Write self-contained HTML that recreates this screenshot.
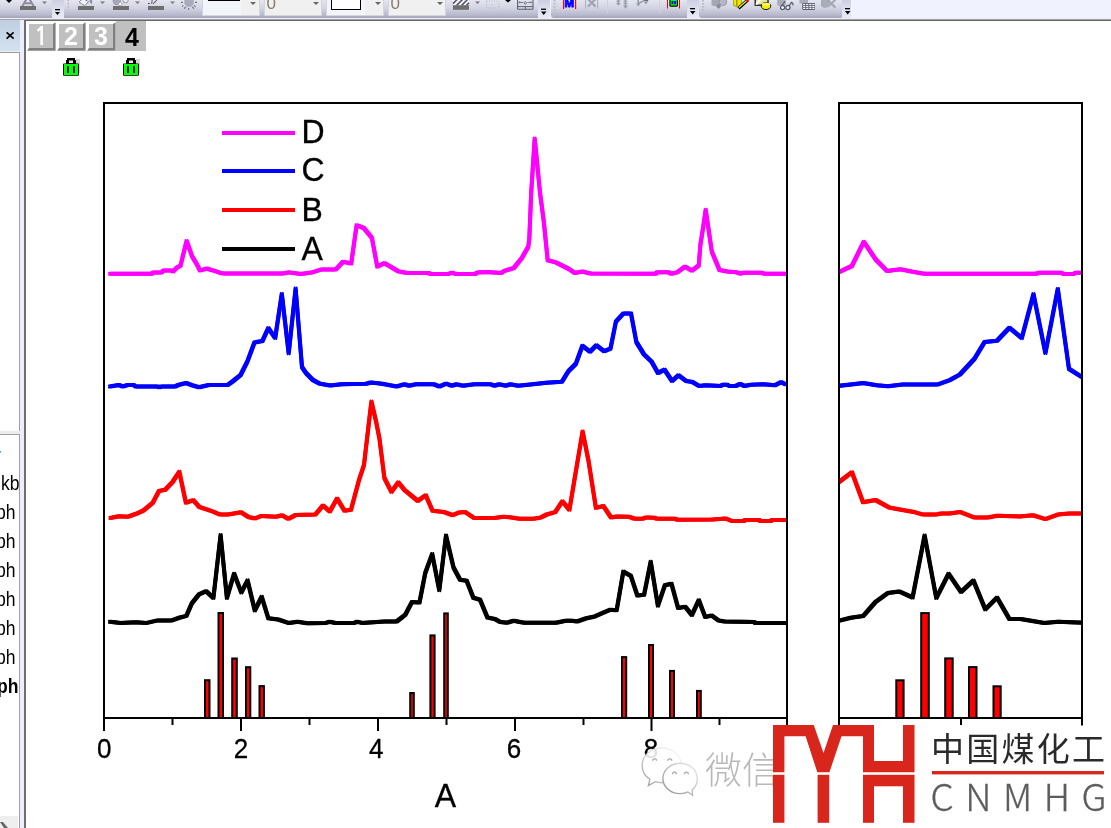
<!DOCTYPE html>
<html><head><meta charset="utf-8"><title>plot</title>
<style>
html,body{margin:0;padding:0;}
body{width:1111px;height:828px;overflow:hidden;position:relative;background:#fff;font-family:"Liberation Sans",Arial,sans-serif;}
.a{position:absolute;}
svg{position:absolute;left:0;top:0;}
.tb{position:absolute;top:0;height:18px;background:linear-gradient(#e4e5f0,#d2d4e3 45%,#b8bacd 82%,#a2a3b9);}
.cb{position:absolute;top:0;height:16px;background:#f0f0f0;border:1px solid #d4d4dc;border-top:none;box-sizing:border-box;}
.arr{position:absolute;top:2px;width:0;height:0;border-left:3px solid transparent;border-right:3px solid transparent;border-top:3px solid #666;}
.chev{position:absolute;top:0;height:19px;background:linear-gradient(#cdcee1,#dfe0ef 50%,#eaebf7);}
.lp{font-size:19.5px;color:#000;position:absolute;left:0;transform:scaleX(0.9);transform-origin:0 0;}
</style></head><body>
<!-- toolbar strip -->
<div class="a" style="left:0;top:0;width:1111px;height:21px;background:#f0f3fd"></div>
<div class="tb" style="left:0;width:540px"></div>
<div class="tb" style="left:551px;width:136px;border-radius:0 0 0 3px"></div>
<div class="tb" style="left:699px;width:144px;border-radius:0 0 3px 3px"></div>
<div class="a" style="left:0;top:18px;width:1111px;height:1px;background:#eceefa"></div>
<div class="a" style="left:0;top:19px;width:1111px;height:1px;background:#a4a4a4"></div><div class="a" style="left:0;top:20px;width:1111px;height:1px;background:#6c6c6c"></div>
<div class="chev" style="left:52px;width:12px"></div>
<div class="chev" style="left:538px;width:12px"></div>
<div class="chev" style="left:687px;width:12px"></div>
<div class="chev" style="left:842px;width:9px"></div>
<!-- combo boxes -->
<div class="cb" style="left:202px;width:58px"><div class="a" style="left:0;top:0;width:38px;height:15px;background:#f2f6fa"></div><div class="a" style="left:4.5px;top:0;width:32px;height:1px;background:#000"></div><div class="arr" style="left:47px"></div></div>
<div class="cb" style="left:264px;width:58px"><div class="a" style="left:1.5px;top:-5.5px;font-size:17px;line-height:17px;color:#8a7a70">0</div><div class="arr" style="left:48px"></div></div>
<div class="cb" style="left:326px;width:58px"><div class="a" style="left:0;top:0;width:38px;height:15px;background:#f2f6fa"></div><div class="a" style="left:4px;top:-1px;width:30px;height:11px;border:1.5px solid #000;background:#fff;box-sizing:border-box"></div><div class="arr" style="left:48px"></div></div>
<div class="cb" style="left:388px;width:58px"><div class="a" style="left:1.5px;top:-5.5px;font-size:17px;line-height:17px;color:#8a7a70">0</div><div class="arr" style="left:48px"></div></div>
<svg width="1111" height="21" viewBox="0 0 1111 21">
<!-- misc toolbar glyphs -->
<polygon points="6,0 12,0 9,3" fill="#000"/>
<path d="M22.5,6 L26.5,-1 M33.5,6 L29.5,-1 M25,3.3 L31,3.3" stroke="#8c8ca0" stroke-width="2" fill="none"/>
<rect x="20" y="6" width="16" height="4" fill="#6e6e6e"/>
<polygon points="42,1.5 47,1.5 44.5,4" fill="#777"/>
<rect x="55" y="9" width="5" height="1.3" fill="#000"/><polygon points="55,12 60,12 57.5,15" fill="#000"/>
<rect x="67.5" y="0" width="1.5" height="1.5" fill="#bbb"/><rect x="67.5" y="3" width="1.5" height="1.5" fill="#bbb"/><rect x="67.5" y="6" width="1.5" height="1.5" fill="#bbb"/><rect x="67.5" y="9" width="1.5" height="1.5" fill="#bbb"/>
<polygon points="79.2,2.2 83,-1.6 88.6,1.8 84.6,5.6" fill="#f4f5fb" stroke="#4a4a55" stroke-width="0.9" stroke-dasharray="1.2,0.6"/><polygon points="89.4,0 92.2,0 91.8,4.2 90,2.6" fill="#8a90a8"/>
<rect x="78" y="6" width="16" height="4" fill="#6e6e6e"/>
<polygon points="100,1.5 105,1.5 102.5,4" fill="#777"/>
<ellipse cx="116.8" cy="0.8" rx="3.8" ry="3.9" fill="#a4a8b8" stroke="#7a7e8e" stroke-width="0.8" stroke-dasharray="1,0.7"/><polygon points="117.8,4 120.2,1.8 122.6,4 120.2,6" fill="#f4f5fb" stroke="#8a8a96" stroke-width="0.7"/><circle cx="125.6" cy="0.3" r="2.6" fill="#e8e9f2" stroke="#8c8c98" stroke-width="0.9"/>
<rect x="113" y="6" width="16" height="4" fill="#6e6e6e"/>
<polygon points="135,1.5 140,1.5 137.5,4" fill="#777"/>
<path d="M153,3.8 L156.8,0 M151.6,3.8 L152.2,0" stroke="#6a6a78" stroke-width="1.1"/><rect x="148" y="3" width="1.8" height="1.1" fill="#555"/>
<rect x="148" y="6" width="16" height="4" fill="#6e6e6e"/>
<polygon points="170,1.5 175,1.5 172.5,4" fill="#777"/>
<polygon points="184.3,-2 193.8,-2 193.8,3.5 191.5,6.8 186.5,6.8 184.3,3.5" fill="#a9abbb"/>
<path d="M181,2.4 L182.8,2.4 M195,2.4 L197,2.4 M182.2,6.6 L183.3,5.4 M184,8.6 L185.8,7 M188.6,8 L188.6,9.8 M194,5.4 L195.6,6.8 M192.4,7 L194,8.6" stroke="#6f6f7c" stroke-width="1.1"/>
<rect x="453" y="-1" width="16" height="6.5" fill="#f6f6fa"/>
<path d="M453,3.6 L457.2,-0.6 M456.6,5.4 L462.6,-0.6 M461.6,5.4 L467.6,-0.6 M466.4,5.4 L469,2.8" stroke="#4c5268" stroke-width="1.5"/>
<rect x="453" y="5.2" width="16" height="4.6" fill="#6e6e6e"/>
<polygon points="475,1.5 480,1.5 477.5,4" fill="#777"/>
<rect x="486.5" y="1" width="12.5" height="7" fill="none" stroke="#a8acbc" stroke-width="0.9" stroke-dasharray="0.9,1.6"/><rect x="491.8" y="4" width="0.9" height="0.9" fill="#a8acbc"/>
<polygon points="505,0 511,0 508,2.5" fill="#000"/>
<rect x="517.6" y="-1.5" width="15.4" height="10.8" rx="0.6" fill="none" stroke="#5c6070" stroke-width="1.1"/>
<line x1="517.6" y1="6.6" x2="533" y2="6.6" stroke="#5c6070" stroke-width="1"/><line x1="525.3" y1="6.6" x2="525.3" y2="9.3" stroke="#5c6070" stroke-width="1"/>
<path d="M519,2.4 L523.2,2.4 M527.4,2.4 L531.6,2.4 M519.8,1.4 L518.8,2.4 L519.8,3.4 M530.8,1.4 L531.8,2.4 L530.8,3.4" stroke="#5c6070" stroke-width="0.8" fill="none"/><circle cx="525.3" cy="2.9" r="1.2" fill="none" stroke="#5c6070" stroke-width="0.8"/>
<rect x="541" y="8.6" width="5" height="1.3" fill="#000"/><polygon points="541,11.5 546.5,11.5 543.7,15" fill="#000"/>
<rect x="553.5" y="0" width="2" height="1.5" fill="#bbb"/><rect x="553.5" y="3" width="2" height="1.5" fill="#bbb"/><rect x="553.5" y="6" width="2" height="1.5" fill="#bbb"/><rect x="553.5" y="9" width="2" height="1.5" fill="#bbb"/>
<rect x="563" y="0" width="1.2" height="9" fill="#f00"/><rect x="575" y="0" width="1.2" height="9" fill="#f00"/>
<text x="569.4" y="6.8" font-size="11.5" font-weight="bold" fill="#0000ff" stroke="#0000ff" stroke-width="0.9" text-anchor="middle" style="font-family:'Liberation Sans',sans-serif">M</text>
<path d="M585.6,0 L585.6,8.6 M597.6,0 L597.6,8.6" stroke="#a6a8b6" stroke-width="0.9"/>
<path d="M588,-1 L595.5,6.6 M595.5,-1 L588,6.6" stroke="#a2a5b5" stroke-width="2.3"/>
<line x1="607.5" y1="0" x2="607.5" y2="14" stroke="#d0d0dc"/>
<g fill="#9a9dac"><rect x="617.6" y="0" width="1.6" height="3.4"/><rect x="616.4" y="0.6" width="4" height="1"/><polygon points="616,3 620.8,3 618.4,5.8"/>
<rect x="624.6" y="0" width="1.6" height="6"/><rect x="623.4" y="0.6" width="4" height="1"/><rect x="623.4" y="2.8" width="4" height="1"/><polygon points="623,5.4 628,5.4 625.4,8.8"/>
<rect x="637.4" y="0" width="1.6" height="3.8"/><polygon points="636,3.4 640.6,3.4 638.3,6.6"/><polygon points="643.6,1.4 648.2,1.4 645.9,4.4"/></g>
<path d="M638.6,3.2 L645.4,0" stroke="#8a8d9c" stroke-width="1.2"/><rect x="644.8" y="0" width="3.4" height="1.2" fill="#666a78"/>
<line x1="659.5" y1="0" x2="659.5" y2="14" stroke="#d0d0dc"/>
<rect x="667" y="0" width="1" height="8.5" fill="#f00"/><rect x="679" y="0" width="1" height="8.5" fill="#f00"/>
<rect x="669.4" y="-2" width="8.6" height="8.8" rx="1.6" fill="#000"/><rect x="670.5" y="-1" width="6.4" height="6.6" fill="#00ff00"/>
<rect x="671.6" y="1" width="1.8" height="3.2" fill="#0000ff"/><rect x="674.2" y="1" width="1.8" height="3.2" fill="#0000ff"/>
<rect x="690" y="8" width="5" height="1.3" fill="#000"/><polygon points="690,11 695.5,11 692.7,14.5" fill="#000"/>
<rect x="702" y="0" width="2" height="1.5" fill="#bbb"/><rect x="702" y="3" width="2" height="1.5" fill="#bbb"/><rect x="702" y="6" width="2" height="1.5" fill="#bbb"/><rect x="702" y="9" width="2" height="1.5" fill="#bbb"/>
<polygon points="711.5,-1 721.5,-1 721.5,5 718.5,6.5 711.5,5.5" fill="#a4a6b2"/><polygon points="716,6.2 718.6,3.6 721.2,6.2 718.6,9" fill="#8a8c98"/><circle cx="723" cy="1.8" r="3.8" fill="#b4b7c4" stroke="#8e909c" stroke-width="0.8"/>
<polygon points="733.6,-1 741.4,-1 741.4,5.5 737.5,7 733.6,5.5" fill="#f0ea00" stroke="#7a7400" stroke-width="0.6"/><rect x="736" y="-1" width="1.6" height="7" fill="#a8a000"/>
<path d="M738.5,8.2 L747.5,0.2" stroke="#000" stroke-width="3.2"/><path d="M738.8,7.6 L747.2,0.2" stroke="#f4ee00" stroke-width="1.3"/><rect x="746.2" y="-1" width="2.6" height="2.6" fill="#f00"/>
<rect x="755.2" y="-1" width="12.8" height="6.2" fill="#e8e4a0" stroke="#000" stroke-width="1.2"/><path d="M756,4.6 L761,-1" stroke="#fff" stroke-width="2"/>
<ellipse cx="766" cy="6" rx="4.8" ry="3.6" fill="#f2ec00" stroke="#000" stroke-width="0.9"/><ellipse cx="766" cy="4.2" rx="4.2" ry="1.6" fill="#fbf76a"/>
<polygon points="777.2,-1 785.8,-1 785.8,4.5 780,6.5 777.2,5" fill="#a9acb9"/>
<path d="M781.6,5.6 L785.2,1.4 M789.4,5.6 L791.4,2.4 L792.9,3.4 L792.9,5.4" stroke="#5a5e6c" stroke-width="1.2" fill="none"/>
<circle cx="782.6" cy="7.6" r="2.1" fill="#f4f4f8" stroke="#5a5e6c" stroke-width="1.3"/><circle cx="787.9" cy="7.6" r="2.1" fill="#f4f4f8" stroke="#5a5e6c" stroke-width="1.3"/>
<polygon points="799.4,-1 808,-1 808,3.5 799.4,3.5" fill="#a9acb9"/>
<rect x="802.2" y="3" width="12.8" height="6.9" rx="0.8" fill="#5c6070"/>
<g fill="#f0f0f4"><rect x="803.1" y="3.9" width="2.2" height="1.2"/><rect x="806.2" y="3.9" width="2.2" height="1.2"/><rect x="809.3" y="3.9" width="2.2" height="1.2"/><rect x="812.3" y="3.9" width="2.2" height="1.2"/>
<rect x="803.1" y="5.9" width="2.2" height="1.2"/><rect x="806.2" y="5.9" width="2.2" height="1.2"/><rect x="809.3" y="5.9" width="2.2" height="1.2"/><rect x="812.3" y="5.9" width="2.2" height="1.2"/>
<rect x="803.1" y="7.8" width="2.2" height="1.2"/><rect x="806.2" y="7.8" width="2.2" height="1.2"/><rect x="809.3" y="7.8" width="2.2" height="1.2"/><rect x="812.3" y="7.8" width="2.2" height="1.2"/></g>
<polygon points="821,-1 829.5,-1 829.5,7 824,8 821,6" fill="#a9acb9"/><path d="M827.5,-0.5 L835.5,7.8 M835.5,-0.5 L829.5,5.5" stroke="#a3a6b4" stroke-width="2"/>
<rect x="845" y="8" width="5" height="1.3" fill="#000"/><polygon points="845,11 850.5,11 847.7,14.5" fill="#000"/>
</svg>
<!-- left dock panel -->
<div class="a" style="left:0;top:20px;width:20px;height:31px;background:linear-gradient(#bfcfe0,#d4e2f0)"></div>
<svg width="20" height="60" viewBox="0 0 20 60"><path d="M6.6,32.4 L13.6,38.6 M13.6,32.4 L6.6,38.6" stroke="#000" stroke-width="1.7"/></svg>
<div class="a" style="left:0;top:51px;width:20px;height:1.5px;background:#eceefa"></div>
<div class="a" style="left:0;top:52.3px;width:19.5px;height:1.2px;background:#9a9a9a"></div>
<div class="a" style="left:18.5px;top:52.3px;width:1.3px;height:379px;background:#a0a0a0"></div>
<div class="a" style="left:0;top:431px;width:20px;height:3px;background:#ececec"></div>
<div class="a" style="left:0;top:434px;width:19px;height:1px;background:#a0a0a0"></div>
<div class="a" style="left:18.5px;top:434px;width:1.5px;height:394px;background:#a0a0a0"></div>
<div class="a" style="left:20px;top:20px;width:4.5px;height:808px;background:#eceefb"></div>
<div class="a" style="left:24.3px;top:20px;width:1.7px;height:808px;background:#6e6e6e"></div>
<div class="a" style="left:0;top:816px;width:18px;height:12px;background:#efefef"></div>
<svg width="30" height="828" viewBox="0 0 30 828"><path d="M0,822 L3,822 L8,828 L4,828 Z" fill="#666"/><rect x="0" y="451" width="1.2" height="1.5" fill="#3399ff"/></svg>
<div class="lp" style="left:0.5px;top:472px;">kb</div>
<div class="lp" style="left:-4.5px;top:501px;">ph</div>
<div class="lp" style="left:-4.5px;top:530px;">ph</div>
<div class="lp" style="left:-4.5px;top:559px;">ph</div>
<div class="lp" style="left:-4.5px;top:588px;">ph</div>
<div class="lp" style="left:-4.5px;top:617px;">ph</div>
<div class="lp" style="left:-4.5px;top:646px;">ph</div>
<div class="lp" style="left:-3.5px;top:675px;font-weight:bold">ph</div>
<!-- main graph svg -->
<svg width="1111" height="828" viewBox="0 0 1111 828" style="font-family:'Liberation Sans',Arial,sans-serif">
<!-- layer tabs -->
<rect x="26" y="20" width="1085" height="1" fill="#666"/>
<polygon points="53,24 55.6,22.3 55.6,50.8 27.1,50.8 29,48 53,48" fill="#808080"/>
<rect x="29" y="24" width="24" height="24" fill="#c0c0c0"/>
<text x="41" y="45" font-size="25" font-weight="bold" fill="#fff" text-anchor="middle" style="font-family:NanumGothic,'Liberation Sans',sans-serif;font-size:23.5px">1</text>
<polygon points="83,24 85.6,22.3 85.6,50.8 57.1,50.8 59,48 83,48" fill="#808080"/>
<rect x="59" y="24" width="24" height="24" fill="#c0c0c0"/>
<text x="71" y="45" font-size="25" font-weight="bold" fill="#fff" text-anchor="middle">2</text>
<polygon points="113,24 115.6,22.3 115.6,50.8 87.1,50.8 89,48 113,48" fill="#808080"/>
<rect x="89" y="24" width="24" height="24" fill="#c0c0c0"/>
<text x="101" y="45" font-size="25" font-weight="bold" fill="#fff" text-anchor="middle">3</text>
<rect x="116" y="21" width="30" height="30" fill="#c0c0c0"/>
<text x="132" y="45.6" font-size="25" font-weight="bold" fill="#000" text-anchor="middle">4</text>
<g transform="translate(0,0)">
<rect x="76" y="59" width="4" height="14" fill="#d8d8d8"/>
<rect x="67" y="58" width="8" height="2.5" fill="#000"/>
<rect x="66" y="60" width="10" height="4" fill="#000"/>
<rect x="69" y="60.5" width="4" height="2.5" fill="#e8e8e8"/>
<rect x="63" y="63.5" width="16" height="12.3" rx="1" fill="#000"/>
<rect x="64" y="64" width="14" height="11" fill="#00ff00"/>
<rect x="67" y="66" width="1.8" height="7" fill="#000"/>
<rect x="73" y="66" width="1.8" height="7" fill="#000"/>
</g>
<g transform="translate(60,0)">
<rect x="76" y="59" width="4" height="14" fill="#d8d8d8"/>
<rect x="67" y="58" width="8" height="2.5" fill="#000"/>
<rect x="66" y="60" width="10" height="4" fill="#000"/>
<rect x="69" y="60.5" width="4" height="2.5" fill="#e8e8e8"/>
<rect x="63" y="63.5" width="16" height="12.3" rx="1" fill="#000"/>
<rect x="64" y="64" width="14" height="11" fill="#00ff00"/>
<rect x="67" y="66" width="1.8" height="7" fill="#000"/>
<rect x="73" y="66" width="1.8" height="7" fill="#000"/>
</g>
<defs><clipPath id="cl"><rect x="105" y="104" width="681" height="613"/></clipPath>
<clipPath id="cr"><rect x="840" y="104" width="241" height="613"/></clipPath></defs>
<g fill="none" stroke-width="2.0" stroke-linejoin="round" stroke-linecap="round" clip-path="url(#cl)">
<polyline id="cl0" points="110,273.80 152,273.80 153,272.40 161.5,272.40 163.5,270.60 172,270.60 173,271.60 177.3,267.30 180.5,265.70 186.6,240.90 188.6,246.20 191.9,255.90 196.7,264.00 200,270.50 201.6,270.10 206.9,268.50 210.5,269.70 214.6,270.90 220.2,272.90 224,273.50 283.6,273.50 287,272.60 290,272.60 300.8,273.90 311.6,272.60 321.5,269.40 335.9,269.40 343.1,261.80 351.2,263.60 356.6,225.30 363.8,228.00 371.9,237.90 377.3,266.70 384.5,263.10 398,271.20 407,273.00 428.6,273.00 430.4,273.90 448.4,273.90 452,272.60 455.6,273.90 475.4,273.90 477.2,272.60 486.8,271.90 501.3,272.90 504.2,271.00 513.8,268.00 521.6,258.40 528.3,246.80 529.3,239.00 531.2,192.70 533.2,161.70 534.7,138.60 537,161.70 540,192.70 543.8,221.70 547.7,260.30 555.4,262.20 568.9,269.00 574.7,272.90 582.5,271.50 590.2,273.50 656,273.80 656.7,272.30 669,272.30 671.3,273.80 677.4,272.30 685,266.60 691.9,270.70 698.8,265.40 700.3,245.50 703.4,225.60 705.7,209.80 708,225.60 711.8,251.60 719.5,270.00 727.1,271.50 736.3,272.30 740.9,273.80 742.4,272.70 762.3,272.70 763.8,273.80 786,273.80" stroke="#ff00ff"/>
<use href="#cl0" x="-1" y="-1"/>
<use href="#cl0" x="1" y="-1"/>
<use href="#cl0" x="-1" y="1"/>
<use href="#cl0" x="1" y="1"/>
<polyline id="cl1" points="109.9,386.50 118.8,385.00 122.8,386.50 127.7,385.00 133.7,385.00 135.6,386.50 157.4,386.50 159.4,387.30 161.4,386.50 175.2,386.50 178.2,385.00 186.1,383.00 192.1,385.30 199,387.30 208.9,385.00 227.7,385.00 232.7,381.40 240.6,375.00 247.5,361.20 254.5,342.40 262.4,341.00 268.3,328.10 275.2,338.00 281.8,293.90 288.7,353.30 295.6,288.50 302,367.10 306,373.00 312.9,380.00 320.1,383.80 330.3,385.40 341.5,384.30 366.3,383.80 370.8,382.50 382,383.80 396.6,386.50 404.5,384.30 409,385.80 415.8,384.30 433.8,384.30 439.4,386.50 446.1,383.60 451.8,385.80 456.3,384.30 463,385.80 474.3,384.30 491.1,384.30 494.5,385.80 499,384.30 505.8,385.80 510.3,384.30 518.1,385.80 532.8,384.30 546.3,382.70 561.9,381.70 568.4,371.30 575.9,363.70 582.4,345.80 590,351.80 596.4,345.30 604,351.20 610.5,348.60 615.9,321.60 623.5,313.40 631,313.40 636.4,342.10 644,354.40 651.5,361.60 658,373.00 664.5,369.60 672,381.00 678.5,375.20 686.1,381.00 692.6,382.10 699.1,386.00 705.5,385.30 720.7,386.00 722.8,384.70 727.1,384.70 729.3,386.00 735.8,386.00 740.1,383.80 744.4,386.00 750.9,384.70 763.9,384.30 774.7,385.30 781.1,382.10 785.5,384.30" stroke="#0000ff"/>
<use href="#cl1" x="-1" y="-1"/>
<use href="#cl1" x="1" y="-1"/>
<use href="#cl1" x="-1" y="1"/>
<use href="#cl1" x="1" y="1"/>
<polyline id="cl2" points="110.4,518.00 118.6,516.30 128,516.70 136.2,513.80 143.5,510.50 152.8,502.80 159,491.00 165.2,489.80 172.5,482.10 179.3,471.70 185.9,502.80 193.2,500.10 199.4,507.00 211.8,511.10 220.1,514.60 228.4,514.60 240.8,512.20 249.1,517.30 255.3,518.40 261.5,515.90 276,516.70 282.2,515.30 288.4,518.80 295.7,515.00 315.3,514.60 323,505.50 329.8,511.50 337.1,498.60 344.5,510.70 351,509.80 359.1,479.70 364,465.00 368.9,422.60 371.4,401.60 376.3,422.60 379.5,438.90 384.4,478.00 391.4,491.90 398.3,482.30 404.8,490.30 417.8,500.90 425.7,495.20 432.5,510.70 443.9,512.00 452.9,515.20 458.6,512.60 465.1,512.00 474.1,518.00 494.5,518.00 503.2,516.80 509.8,517.20 519.3,518.70 533.5,518.70 541,517.40 546.7,514.50 555.2,512.10 562.4,501.30 569.4,509.80 582.6,431.40 588.3,459.70 595.9,507.90 603.4,506.00 611,517.40 616.7,516.40 628.9,516.80 634.6,518.70 643.1,518.70 646,517.40 654.5,517.70 656.4,518.70 675.3,518.70 677.1,519.80 712.5,519.50 726,518.60 732.3,521.10 744,521.10 744.9,520.00 759.3,520.00 760.2,521.10 771,521.10 771.9,520.00 785.9,520.00" stroke="#ff0000"/>
<use href="#cl2" x="-1" y="-1"/>
<use href="#cl2" x="1" y="-1"/>
<use href="#cl2" x="-1" y="1"/>
<use href="#cl2" x="1" y="1"/>
<polyline id="cl3" points="109.9,621.80 120.7,623.10 136,622.20 145.9,623.10 157.6,620.40 172,620.40 179.2,617.70 186.4,615.90 191.8,603.30 199,594.30 206.2,591.20 213.4,597.90 220.6,535.00 226.9,597.90 234.1,573.70 241.3,592.50 247.6,580.40 254.8,610.50 261.7,596.70 268.3,618.20 278.2,619.50 289,623.10 297.6,621.80 307,623.30 325.9,622.90 329.7,621.80 335.4,622.90 354.3,622.90 357.1,621.80 361.8,622.90 369.4,622.40 384.5,621.40 396.8,621.40 405.3,614.80 411.9,602.10 419.5,602.50 425.2,573.20 432.2,554.00 439.3,590.20 446,535.50 453.5,567.50 460.1,579.80 466.7,580.80 473.4,597.80 480,599.70 487.5,617.60 494.7,618.90 500.4,622.10 507,622.70 513.6,620.80 524,622.70 556.2,622.70 565.6,620.80 572.2,620.80 577,621.50 586.4,618.30 594.9,616.40 603.4,612.70 610,609.80 616.7,610.20 623.3,571.60 630.8,575.80 637.4,595.60 644.1,594.70 650.7,561.70 657.9,605.70 664.9,585.20 671.5,583.70 678.1,607.90 685.3,606.80 691.9,615.00 698.8,600.20 705.2,617.00 711.7,615.50 718.6,620.50 724.6,621.50 754.3,622.00 755.2,623.00 786.4,623.00" stroke="#000000"/>
<use href="#cl3" x="-1" y="-1"/>
<use href="#cl3" x="1" y="-1"/>
<use href="#cl3" x="-1" y="1"/>
<use href="#cl3" x="1" y="1"/>
</g>
<g fill="none" stroke-width="2.0" stroke-linejoin="round" stroke-linecap="round" clip-path="url(#cr)">
<polyline id="cr0" points="830,275.00 839.5,271.80 851.9,266.00 863.8,241.80 875.5,259.20 887.2,271.10 900.3,269.30 911.5,271.60 923.9,273.80 1036.4,273.80 1038.6,272.70 1061.1,272.70 1063.4,274.00 1073.5,274.00 1075.8,272.70 1090,272.70" stroke="#ff00ff"/>
<use href="#cr0" x="-1" y="-1"/>
<use href="#cr0" x="1" y="-1"/>
<use href="#cr0" x="-1" y="1"/>
<use href="#cr0" x="1" y="1"/>
<polyline id="cr1" points="830,386.00 839.5,385.80 855.3,384.00 863.1,383.10 876.6,385.30 887.9,386.20 902.5,384.60 937.4,384.60 949.8,380.10 959.9,374.50 974.5,358.80 984.6,341.90 997,340.80 1009.4,327.80 1021.8,338.10 1033.5,294.10 1045.4,353.10 1057.8,288.90 1069,368.90 1081,376.50 1090,381.00" stroke="#0000ff"/>
<use href="#cr1" x="-1" y="-1"/>
<use href="#cr1" x="1" y="-1"/>
<use href="#cr1" x="-1" y="1"/>
<use href="#cr1" x="1" y="1"/>
<polyline id="cr2" points="830,489.00 839.5,481.60 851.9,472.20 863.1,502.30 875.5,500.00 889,507.40 902.5,510.10 913.8,511.90 922.8,514.60 936.3,514.60 940.8,513.50 949.8,513.50 959.9,511.90 974.5,517.60 988,517.60 997,515.80 1019.5,516.40 1033,515.30 1045.4,519.10 1057.8,514.60 1069,513.50 1090,513.50" stroke="#ff0000"/>
<use href="#cr2" x="-1" y="-1"/>
<use href="#cr2" x="1" y="-1"/>
<use href="#cr2" x="-1" y="1"/>
<use href="#cr2" x="1" y="1"/>
<polyline id="cr3" points="830,622.00 839.5,620.60 850.8,617.70 863.1,616.10 875.5,602.00 887.9,593.00 899.1,591.40 912.6,597.50 924.6,535.50 936.3,598.10 948.6,573.70 961,592.00 973.4,580.50 985.3,609.40 997,597.60 1009.4,619.10 1020.6,619.10 1044.3,622.90 1057.8,621.80 1090,622.90" stroke="#000000"/>
<use href="#cr3" x="-1" y="-1"/>
<use href="#cr3" x="1" y="-1"/>
<use href="#cr3" x="-1" y="1"/>
<use href="#cr3" x="1" y="1"/>
</g>
<g fill="#ff0000" stroke="#000" stroke-width="2">
<rect x="205" y="680.2" width="4.5" height="37.8"/>
<rect x="218.5" y="613" width="4.5" height="105"/>
<rect x="232.2" y="658.5" width="4.6" height="59.5"/>
<rect x="246" y="667.2" width="4.3" height="50.8"/>
<rect x="259.5" y="686.1" width="4.4" height="31.9"/>
<rect x="410.2" y="693" width="3.6" height="25"/>
<rect x="430.4" y="635.4" width="4.2" height="82.6"/>
<rect x="444.2" y="613.4" width="3.6" height="104.6"/>
<rect x="622" y="657.1" width="4.2" height="60.9"/>
<rect x="649" y="645" width="4" height="73"/>
<rect x="670" y="670.9" width="4" height="47.1"/>
<rect x="697" y="690.9" width="3.8" height="27.1"/>
<rect x="896.3" y="680.3" width="7.3" height="37.7"/>
<rect x="921.2" y="613.1" width="7.6" height="104.9"/>
<rect x="945.2" y="658.4" width="7.5" height="59.6"/>
<rect x="969" y="667.1" width="7.5" height="50.9"/>
<rect x="993.5" y="686.3" width="7.2" height="31.7"/>
</g>
<g fill="none" stroke="#000" stroke-width="2">
<rect x="104" y="103" width="683" height="615"/>
<rect x="839" y="103" width="243" height="615"/>
</g>
<g stroke="#000" stroke-width="2">
<line x1="104" y1="718" x2="104" y2="731"/>
<line x1="241" y1="718" x2="241" y2="731"/>
<line x1="378" y1="718" x2="378" y2="731"/>
<line x1="515" y1="718" x2="515" y2="731"/>
<line x1="651.5" y1="718" x2="651.5" y2="731"/>
<line x1="787" y1="718" x2="787" y2="731"/>
<line x1="172.5" y1="718" x2="172.5" y2="725"/>
<line x1="309.5" y1="718" x2="309.5" y2="725"/>
<line x1="446.5" y1="718" x2="446.5" y2="725"/>
<line x1="583.5" y1="718" x2="583.5" y2="725"/>
<line x1="719.5" y1="718" x2="719.5" y2="725"/>
<line x1="839" y1="718" x2="839" y2="731"/>
<line x1="1082" y1="718" x2="1082" y2="731"/>
<line x1="961" y1="718" x2="961" y2="725"/>
</g>
<line x1="222" y1="133" x2="295" y2="133" stroke="#ff00ff" stroke-width="4" stroke-linecap="butt"/>
<text transform="translate(301.6,142.9) scale(1,1.045)" font-size="32" stroke="#000" stroke-width="0.3">D</text>
<line x1="222" y1="171" x2="295" y2="171" stroke="#0000ff" stroke-width="4" stroke-linecap="butt"/>
<text transform="translate(301.6,181.4) scale(1,1.045)" font-size="32" stroke="#000" stroke-width="0.3">C</text>
<line x1="222" y1="210" x2="295" y2="210" stroke="#ff0000" stroke-width="4" stroke-linecap="butt"/>
<text transform="translate(301.6,220.5) scale(1,1.045)" font-size="32" stroke="#000" stroke-width="0.3">B</text>
<line x1="222" y1="249" x2="295" y2="249" stroke="#000000" stroke-width="4" stroke-linecap="butt"/>
<text transform="translate(301.6,259.7) scale(1,1.045)" font-size="32" stroke="#000" stroke-width="0.3">A</text>
<text transform="translate(104.2,757.9) scale(1,1.06)" font-size="26" text-anchor="middle" stroke="#000" stroke-width="0.3">0</text>
<text transform="translate(241,757.9) scale(1,1.06)" font-size="26" text-anchor="middle" stroke="#000" stroke-width="0.3">2</text>
<text transform="translate(376.3,757.9) scale(1,1.06)" font-size="26" text-anchor="middle" stroke="#000" stroke-width="0.3">4</text>
<text transform="translate(513.9,757.9) scale(1,1.06)" font-size="26" text-anchor="middle" stroke="#000" stroke-width="0.3">6</text>
<text transform="translate(650.9,757.9) scale(1,1.06)" font-size="26" text-anchor="middle" stroke="#000" stroke-width="0.3">8</text>
<text transform="translate(445.4,806.9) scale(1,1.045)" font-size="32" text-anchor="middle" stroke="#000" stroke-width="0.3">A</text>
</svg>
<!-- watermarks -->
<svg width="1111" height="828" viewBox="0 0 1111 828">
<defs>
<linearGradient id="wg1" x1="1" y1="0" x2="0" y2="1"><stop offset="0" stop-color="#fcfcfc"/><stop offset="0.45" stop-color="#e0e0e0"/><stop offset="1" stop-color="#9a9a9a"/></linearGradient>
<linearGradient id="wg2" x1="1" y1="0" x2="0" y2="1"><stop offset="0" stop-color="#eeeeee"/><stop offset="0.4" stop-color="#c8c8c8"/><stop offset="1" stop-color="#8e8e8e"/></linearGradient>
</defs>
<g stroke-width="1.4">
<path d="M681.4,765.4 C681.4,755.8 672.6,748 661.8,748 C651,748 642.2,755.8 642.2,765.4 C642.2,771.5 645.3,776.3 649.9,779.3 L648.4,785.7 L655.3,781.7 C657.4,782.4 659.6,782.8 661.8,782.8 C672.6,782.8 681.4,775 681.4,765.4 Z" fill="#fff" fill-opacity="0.88" stroke="url(#wg1)"/>
<path d="M697.3,778.4 C697.3,770 689.6,763.2 680.1,763.2 C670.6,763.2 662.9,770 662.9,778.4 C662.9,786.8 670.6,793.6 680.1,793.6 C682.8,793.6 685.5,793 687.9,792 L692.6,795.4 L692.2,790 C695.3,787.3 697.3,783.1 697.3,778.4 Z" fill="#fff" stroke="url(#wg2)"/>
</g>
<g fill="none" stroke="#a8a8a8" stroke-width="1.3">
<path d="M652.6,760.8 a2,2 0 0 1 4,0"/><path d="M667.8,760.8 a2,2 0 0 1 4,0"/>
<path d="M672.5,774.2 a2,2 0 0 1 4,0"/><path d="M684.4,774.2 a2,2 0 0 1 4,0"/>
</g>
<text x="705" y="783.5" font-size="37" fill="#b9b9b9" style="font-family:'Noto Sans CJK SC',sans-serif;font-weight:300">微信</text>
<rect x="773" y="725.5" width="338" height="103" fill="#fff"/>
<g fill="#d9261c">
<polygon points="773,725 813.75,725 823.5,753 833,725 874,725 874,761 903,761 903,725 914.5,725 914.5,772.3 863,772.3 863,736.3 841.5,736.3 829.4,772.3 817.3,772.3 805.6,736.3 784.4,736.3 784.4,772.3 773,772.3"/>
<rect x="773" y="774.8" width="11.4" height="48"/>
<rect x="817.6" y="774.8" width="11.6" height="48"/>
<rect x="863" y="774.8" width="11" height="48"/>
<rect x="874" y="774.8" width="29" height="11.5"/>
<rect x="903" y="774.8" width="11.5" height="48"/>
<rect x="932" y="771" width="172" height="3.4"/>
</g>
<text x="931" y="760.5" font-size="33" fill="#2a2a2a" textLength="174" lengthAdjust="spacing" style="font-family:'Noto Sans CJK SC',sans-serif;font-weight:400">中国煤化工</text>
<text x="930.5" y="811" font-size="37" fill="#5c5c5c" stroke="#5c5c5c" stroke-width="0.35" textLength="176" lengthAdjust="spacing" style="font-family:'Noto Sans CJK SC','Liberation Sans',sans-serif;font-weight:300">CNMHG</text>
</svg>
</body></html>
